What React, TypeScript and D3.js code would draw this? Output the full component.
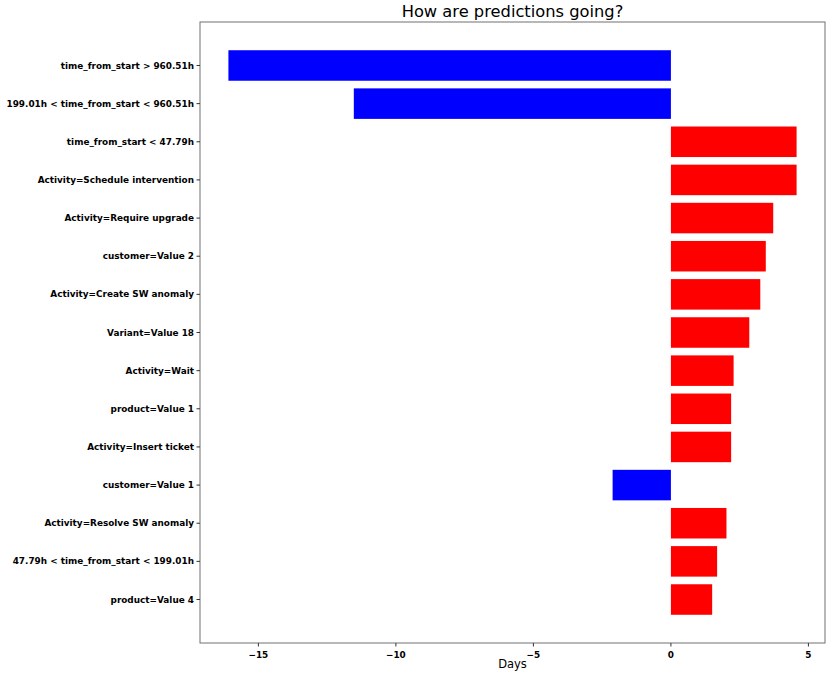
import React, { useEffect, useRef } from "react";
import * as d3 from "d3";

const features = [
  "time_from_start > 960.51h",
  "199.01h < time_from_start < 960.51h",
  "time_from_start < 47.79h",
  "Activity=Schedule intervention",
  "Activity=Require upgrade",
  "customer=Value 2",
  "Activity=Create SW anomaly",
  "Variant=Value 18",
  "Activity=Wait",
  "product=Value 1",
  "Activity=Insert ticket",
  "customer=Value 1",
  "Activity=Resolve SW anomaly",
  "47.79h < time_from_start < 199.01h",
  "product=Value 4",
];

const effects = [
  -16.09, -11.53, 4.57, 4.57, 3.72, 3.45, 3.25, 2.85, 2.28, 2.19, 2.19, -2.12,
  2.02, 1.68, 1.5,
];

const title = "How are predictions going?";
const xLabel = "Days";

function App() {
  const ref = useRef(null);

  useEffect(() => {
    const width = 830;
    const height = 676;
    const left = 200;
    const right = 825;
    const top = 22;
    const bottom = 643;
    const font = "DejaVu Sans";

    d3.select(ref.current).select("svg").remove();

    const svg = d3
      .select(ref.current)
      .append("svg")
      .attr("width", width)
      .attr("height", height)
      .style("position", "absolute")
      .style("left", "0px")
      .style("top", "0px")
      .style("background", "white");

    // matplotlib-like 5% margins around the data
    const lo = Math.min(0, d3.min(effects));
    const hi = Math.max(0, d3.max(effects));
    const pad = (hi - lo) * 0.05;
    const x = d3.scaleLinear().domain([lo - pad, hi + pad]).range([left, right]);

    const y = d3
      .scaleBand()
      .domain(features)
      .range([top, bottom])
      .paddingInner(0.2)
      .paddingOuter(0.74);

    svg
      .selectAll("rect.bar")
      .data(effects)
      .enter()
      .append("rect")
      .attr("class", "bar")
      .attr("x", (d) => x(Math.min(0, d)))
      .attr("y", (d, i) => y(features[i]))
      .attr("width", (d) => Math.abs(x(d) - x(0)))
      .attr("height", y.bandwidth())
      .attr("fill", (d) => (d < 0 ? "#0000ff" : "#ff0000"));

    // frame
    svg
      .append("rect")
      .attr("x", left)
      .attr("y", top)
      .attr("width", right - left)
      .attr("height", bottom - top)
      .attr("fill", "none")
      .attr("stroke", "#707070")
      .attr("stroke-width", 1);

    // y ticks
    features.forEach((f) => {
      const cy = y(f) + y.bandwidth() / 2;
      svg
        .append("line")
        .attr("x1", left - 3.5)
        .attr("x2", left)
        .attr("y1", cy)
        .attr("y2", cy)
        .attr("stroke", "#333");
      svg
        .append("text")
        .attr("x", left - 6)
        .attr("y", cy)
        .attr("dy", "0.35em")
        .attr("text-anchor", "end")
        .style("font-family", font)
        .style("font-weight", "bold")
        .style("font-size", "8.9px")
        .text(f);
    });

    // x ticks
    const fmt = d3.format("d");
    x.ticks(5).forEach((t) => {
      svg
        .append("line")
        .attr("x1", x(t))
        .attr("x2", x(t))
        .attr("y1", bottom)
        .attr("y2", bottom + 3.5)
        .attr("stroke", "#333");
      svg
        .append("text")
        .attr("x", x(t))
        .attr("y", bottom + 15)
        .attr("text-anchor", "middle")
        .style("font-family", font)
        .style("font-weight", "bold")
        .style("font-size", "8.9px")
        .text(fmt(t));
    });

    svg
      .append("text")
      .attr("x", (left + right) / 2)
      .attr("y", 668)
      .attr("text-anchor", "middle")
      .style("font-family", font)
      .style("font-size", "11.5px")
      .text(xLabel);

    svg
      .append("text")
      .attr("x", (left + right) / 2)
      .attr("y", 17)
      .attr("text-anchor", "middle")
      .style("font-family", font)
      .style("font-size", "16.3px")
      .text(title);
  }, []);

  return <div ref={ref}></div>;
}

export default App;
